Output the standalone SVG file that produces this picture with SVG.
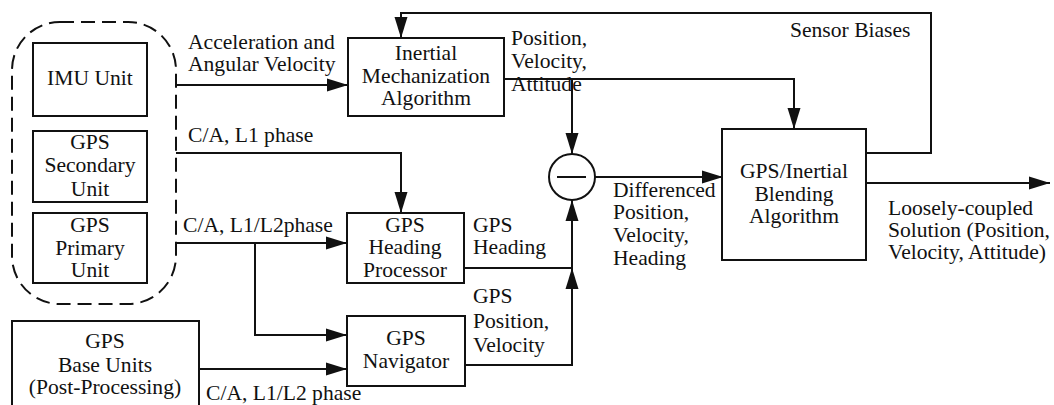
<svg xmlns="http://www.w3.org/2000/svg" width="1054" height="405" viewBox="0 0 1054 405">
<style>
text{font-family:'Liberation Serif','Times New Roman',serif;font-size:20px;fill:#111;transform-box:fill-box;transform:scaleX(1.08)}
.c{text-anchor:middle;transform-origin:center}
.l{transform-origin:left center}
.box{fill:#fff;stroke:#111;stroke-width:2}
.ln{fill:none;stroke:#111;stroke-width:2}
</style>
<defs>
<marker id="ah" markerUnits="userSpaceOnUse" markerWidth="22" markerHeight="14" refX="21" refY="7" orient="auto">
<path d="M0,0.5 L21,7 L0,13.5 z" fill="#111"/>
</marker>
</defs>
<rect width="1054" height="405" fill="#fff"/>
<g id="connectors">
<path class="ln" d="M176,85 H348" marker-end="url(#ah)"/>
<path class="ln" d="M176,153 H401 V213" marker-end="url(#ah)"/>
<path class="ln" d="M176,243 H347" marker-end="url(#ah)"/>
<path class="ln" d="M255,243 V335 H347" marker-end="url(#ah)"/>
<path class="ln" d="M199,369 H347" marker-end="url(#ah)"/>
<path class="ln" d="M504,79 H794 V129" marker-end="url(#ah)"/>
<path class="ln" d="M572,79 V154" marker-end="url(#ah)"/>
<path class="ln" d="M464,268 H572 V200" marker-end="url(#ah)"/>
<path class="ln" d="M465,365 H572 V268" marker-end="url(#ah)"/>
<path class="ln" d="M595,177 H723" marker-end="url(#ah)"/>
<path class="ln" d="M866,153 H931 V13 H401 V38" marker-end="url(#ah)"/>
<path class="ln" d="M866,183 H1050" marker-end="url(#ah)"/>
</g>
<g id="sensor-group">
<rect x="12" y="22" width="164" height="282" rx="48" ry="48" fill="none" stroke="#111" stroke-width="2" stroke-dasharray="14 7"/>
</g>
<g id="imu">
<rect class="box" x="33" y="43" width="114" height="73"/>
<text class="c" x="90" y="85">IMU Unit</text>
</g>
<g id="gps-secondary">
<rect class="box" x="33" y="131" width="114" height="71"/>
<text class="c" x="90" y="149">GPS</text>
<text class="c" x="90" y="172">Secondary</text>
<text class="c" x="90" y="196">Unit</text>
</g>
<g id="gps-primary">
<rect class="box" x="33" y="213" width="114" height="70"/>
<text class="c" x="90" y="232">GPS</text>
<text class="c" x="90" y="255">Primary</text>
<text class="c" x="90" y="277">Unit</text>
</g>
<g id="gps-base">
<rect class="box" x="12" y="321" width="187" height="100"/>
<text class="c" x="105" y="348">GPS</text>
<text class="c" x="105" y="372">Base Units</text>
<text class="c" x="105" y="394">(Post-Processing)</text>
</g>
<g id="inertial">
<rect class="box" x="348" y="38" width="156" height="78"/>
<text class="c" x="426" y="60">Inertial</text>
<text class="c" x="426" y="83">Mechanization</text>
<text class="c" x="426" y="105">Algorithm</text>
</g>
<g id="heading-proc">
<rect class="box" x="347" y="213" width="117" height="70"/>
<text class="c" x="405" y="232">GPS</text>
<text class="c" x="405" y="254">Heading</text>
<text class="c" x="405" y="277">Processor</text>
</g>
<g id="navigator">
<rect class="box" x="347" y="316" width="118" height="70"/>
<text class="c" x="406" y="345">GPS</text>
<text class="c" x="406" y="368">Navigator</text>
</g>
<g id="diff">
<circle cx="572" cy="177" r="23" fill="#fff" stroke="#111" stroke-width="2"/>
<path class="ln" d="M557,177 H586"/>
</g>
<g id="blending">
<rect class="box" x="722" y="129" width="144" height="131"/>
<text class="c" x="794" y="178">GPS/Inertial</text>
<text class="c" x="794" y="201">Blending</text>
<text class="c" x="794" y="223">Algorithm</text>
</g>
<g id="labels">
<text class="l" x="188" y="49">Acceleration and</text>
<text class="l" x="188" y="71">Angular Velocity</text>
<text class="l" x="188" y="142">C/A, L1 phase</text>
<text class="l" x="183" y="232">C/A, L1/L2phase</text>
<text class="l" x="206" y="400">C/A, L1/L2 phase</text>
<text class="l" x="511" y="45">Position,</text>
<text class="l" x="511" y="68">Velocity,</text>
<text class="l" x="511" y="91">Attitude</text>
<text class="l" x="473" y="232">GPS</text>
<text class="l" x="473" y="254">Heading</text>
<text class="l" x="473" y="303">GPS</text>
<text class="l" x="473" y="328">Position,</text>
<text class="l" x="473" y="352">Velocity</text>
<text class="l" x="613" y="197">Differenced</text>
<text class="l" x="613" y="219">Position,</text>
<text class="l" x="613" y="242">Velocity,</text>
<text class="l" x="613" y="265">Heading</text>
<text class="l" x="790" y="37">Sensor Biases</text>
<text class="l" x="888" y="215">Loosely-coupled</text>
<text class="l" x="888" y="237">Solution (Position,</text>
<text class="l" x="888" y="259">Velocity, Attitude)</text>
</g>
</svg>
